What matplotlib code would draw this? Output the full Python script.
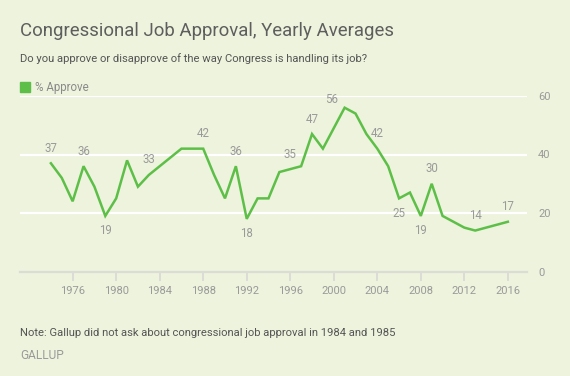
import matplotlib
matplotlib.use('Agg')
import matplotlib.pyplot as plt

plt.rcParams['font.family'] = ['Roboto', 'DejaVu Sans']

# yearly averages, % approve (1984 and 1985 not asked)
anos = [1974, 1975, 1976, 1977, 1978, 1979, 1980, 1981, 1982, 1983,
        1986, 1987, 1988, 1989, 1990, 1991, 1992, 1993, 1994, 1995,
        1996, 1997, 1998, 1999, 2000, 2001, 2002, 2003, 2004, 2005,
        2006, 2007, 2008, 2009, 2010, 2011, 2012, 2013, 2014, 2015, 2016]
aprovacao = [37, 32, 24, 36, 29, 19, 25, 38, 29, 33,
             42, 42, 42, 33, 25, 36, 18, 25, 25, 34,
             35, 36, 47, 42, 49, 56, 54, 47, 42, 36,
             25, 27, 19, 30, 19, 17, 15, 14, 15, 16, 17]

# labelled points: year, above (1) or below (-1)
rotulos_anos = [1974, 1977, 1979, 1983, 1988, 1991, 1992, 1996, 1998,
                2001, 2004, 2006, 2008, 2009, 2013, 2016]
rotulos_lado = [1, 1, -1, 1, 1, 1, -1, 1, 1, 1, 1, -1, -1, 1, 1, 1]

anos_ticks = list(range(1976, 2017, 4))
y_ticks = [0, 20, 40, 60]

fundo = '#edf3dc'
verde = '#5dbf48'

fig = plt.figure(figsize=(5.7, 3.76), dpi=100, facecolor=fundo)
ax = fig.add_axes([20 / 570, 1 - 271.5 / 376, 507 / 570, 175.5 / 376])
ax.set_facecolor(fundo)

ax.set_xlim(1971.16, 2017.76)
ax.set_ylim(0, 60)

for v in y_ticks[1:]:
    ax.axhline(v, color='white', lw=1.6, zorder=1)
ax.axhline(0, color='#dcdcd6', lw=1.6, zorder=2, clip_on=False)

ax.plot(anos, aprovacao, color=verde, lw=1.8, zorder=3, solid_joinstyle='miter')

for ano, lado in zip(rotulos_anos, rotulos_lado):
    v = aprovacao[anos.index(ano)]
    dx = -13 if ano == 2001 else 0
    dy = 8 if ano == 2001 else 15 * lado
    ax.annotate(str(v), (ano, v), xytext=(dx / 1.389, dy / 1.389),
                textcoords='offset points', ha='center', va='center',
                fontsize=8.3, color='#9a9a9a')

for s in ax.spines.values():
    s.set_visible(False)

ax.set_xticks(anos_ticks)
ax.set_xticklabels([str(a) for a in anos_ticks])
ax.tick_params(axis='x', length=6.5, width=1.4, color='#dcdcd6',
               labelsize=8, labelcolor='#9a9a9a', pad=4)
ax.yaxis.tick_right()
ax.set_yticks(y_ticks)
ax.tick_params(axis='y', length=0, labelsize=8, labelcolor='#9a9a9a', pad=8)

fig.text(20 / 570, 1 - 31 / 376, 'Congressional Job Approval, Yearly Averages',
         fontsize=13.4, color='#5e5e5e', va='center', ha='left')
fig.text(20 / 570, 1 - 59 / 376,
         'Do you approve or disapprove of the way Congress is handling its job?',
         fontsize=8.1, color='#555555', va='center', ha='left')
fig.patches.append(plt.Rectangle((20 / 570, 1 - 92 / 376), 10 / 570, 10 / 376,
                                 transform=fig.transFigure, color=verde))
fig.text(35 / 570, 1 - 87 / 376, '% Approve', fontsize=8.3, color='#8a8a8a',
         va='center', ha='left')
fig.text(20 / 570, 1 - 332.5 / 376,
         'Note: Gallup did not ask about congressional job approval in 1984 and 1985',
         fontsize=8.1, color='#555555', va='center', ha='left')
fig.text(20 / 570, 1 - 355.5 / 376, 'GALLUP', fontsize=8.6, color='#9a9a9a',
         va='center', ha='left')

plt.savefig('out.png', dpi=100, facecolor=fundo)
